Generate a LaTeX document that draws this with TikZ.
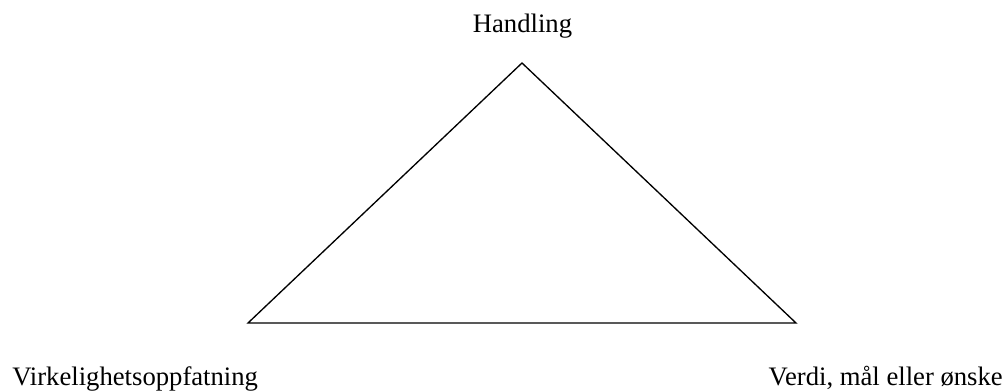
\documentclass[tikz,border=0pt]{standalone}
\usepackage{fontspec}
\setmainfont{Liberation Serif}
\begin{document}
\begin{tikzpicture}[x=0.75pt,y=-0.75pt,
  lbl/.style={inner sep=0pt,font=\fontsize{20pt}{23pt}\selectfont},
  edge/.style={draw=black,line width=1pt}]
\useasboundingbox (0,0) rectangle (1005,392);
\coordinate (top) at (522,63);
\coordinate (bl) at (248,323);
\coordinate (br) at (796,323);
\draw[edge,line join=miter] (top) -- (bl) -- (br) -- cycle;
\node[lbl,anchor=base] (h) at (522.5,33) {Handling};
\node[lbl,anchor=base west] (v) at (12,385.5) {Virkelighetsoppfatning};
\node[lbl,anchor=base east] (w) at (1003,385.5) {Verdi, mål eller ønske};
\end{tikzpicture}
\end{document}
